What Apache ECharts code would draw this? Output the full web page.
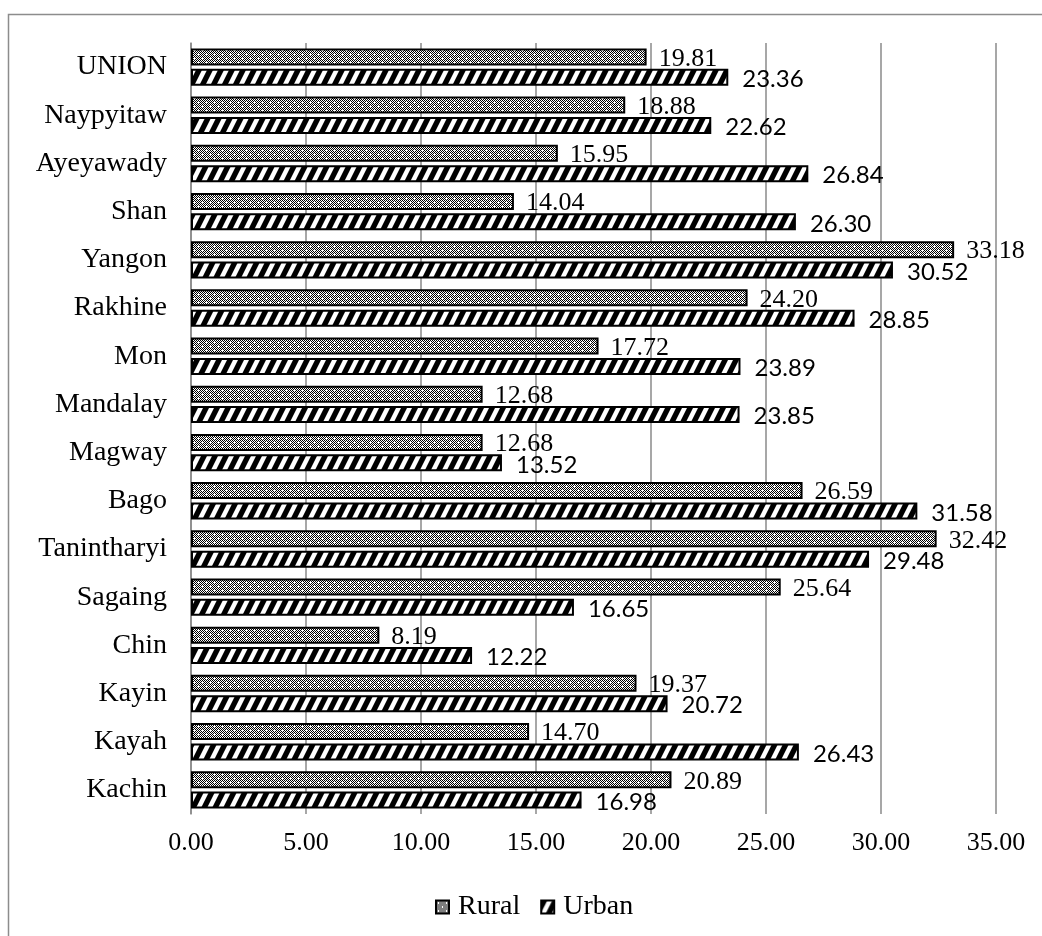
<!DOCTYPE html>
<html>
<head>
<meta charset="utf-8">
<script src="https://cdn.jsdelivr.net/npm/echarts@6/dist/echarts.min.js"></script>
<style>
  html, body { margin: 0; padding: 0; background: #fff; }
  #chart { width: 1042px; height: 936px; }
</style>
</head>
<body>
<div id="chart"></div>
<script>
// Regions, listed bottom to top as the category axis runs upward
const regions = ['Kachin', 'Kayah', 'Kayin', 'Chin', 'Sagaing', 'Tanintharyi', 'Bago', 'Magway',
  'Mandalay', 'Mon', 'Rakhine', 'Yangon', 'Shan', 'Ayeyawady', 'Naypyitaw', 'UNION'];
const rural = [20.89, 14.70, 19.37, 8.19, 25.64, 32.42, 26.59, 12.68,
  12.68, 17.72, 24.20, 33.18, 14.04, 15.95, 18.88, 19.81];
const urban = [16.98, 26.43, 20.72, 12.22, 16.65, 29.48, 31.58, 13.52,
  23.85, 23.89, 28.85, 30.52, 26.30, 26.84, 22.62, 23.36];
const xTicks = [0, 5, 10, 15, 20, 25, 30, 35];

// Fine dotted checker fill for the rural bars
function checkerPattern() {
  const c = document.createElement('canvas');
  c.width = 8; c.height = 8;
  const g = c.getContext('2d');
  g.fillStyle = '#fff';
  g.fillRect(0, 0, 8, 8);
  g.fillStyle = '#000';
  for (let y = 0; y < 8; y++) {
    for (let x = 0; x < 8; x++) {
      if ((x + y) % 2 === 0) g.fillRect(x, y, 1, 1);
    }
  }
  g.fillStyle = '#fff';
  [[2, 2], [6, 6]].forEach(([cx, cy]) => {
    g.fillRect(cx - 1, cy, 3, 1);
    g.fillRect(cx, cy - 1, 1, 3);
  });
  return c;
}

// Bold forward-slash stripes for the urban bars
function stripePattern() {
  const W = 11, H = 22;
  const c = document.createElement('canvas');
  c.width = W; c.height = H;
  const g = c.getContext('2d');
  g.fillStyle = '#fff';
  g.fillRect(0, 0, W, H);
  g.fillStyle = '#000';
  for (let y = 0; y < H; y++) {
    const x0 = W - (y + 0.5) * (W / H);
    [x0 - W, x0, x0 + W].forEach(x => g.fillRect(x, y, 6, 1));
  }
  return c;
}

const serif = '"Liberation Serif", "Times New Roman", serif';
const sans = 'Lato, "Liberation Sans", sans-serif';

const chart = echarts.init(document.getElementById('chart'), null, { renderer: 'canvas', devicePixelRatio: 1 });

chart.setOption({
  animation: false,
  backgroundColor: '#fff',
  graphic: [{
    type: 'rect',
    silent: true,
    z: -10,
    shape: { x: 8.5, y: 14.5, width: 1100, height: 1000 },
    style: { fill: 'none', stroke: '#8c8c8c', lineWidth: 1.5 }
  }],
  grid: { left: 191, top: 43, width: 805, height: 771, containLabel: false },
  legend: {
    data: ['Rural', 'Urban'],
    left: 430,
    top: 888,
    itemWidth: 13,
    itemHeight: 13,
    itemGap: 20,
    icon: 'rect',
    textStyle: { fontFamily: serif, fontSize: 28, color: '#000', padding: [0, 0, 0, 4] }
  },
  xAxis: {
    type: 'value',
    min: 0,
    max: 35,
    interval: 5,
    axisLine: { show: false },
    axisTick: { show: false },
    splitLine: { show: true, lineStyle: { color: '#8a8a8a', width: 1.5 } },
    axisLabel: {
      margin: 16,
      fontFamily: serif, fontSize: 26, color: '#000',
      formatter: v => xTicks.includes(v) ? v.toFixed(2) : ''
    }
  },
  yAxis: {
    type: 'category',
    data: regions,
    axisLine: { show: true, lineStyle: { color: '#8a8a8a', width: 1.5 } },
    axisTick: { show: false },
    axisLabel: { margin: 24, fontFamily: serif, fontSize: 28, color: '#000' }
  },
  series: [
    {
      name: 'Rural',
      type: 'bar',
      data: rural,
      barWidth: 17,
      barGap: '20%',
      itemStyle: {
        color: { image: checkerPattern(), repeat: 'repeat' },
        borderColor: '#000',
        borderWidth: 2
      },
      label: {
        show: true,
        position: 'right',
        distance: 12,
        offset: [0, 2],
        fontFamily: serif, fontSize: 26, color: '#000',
        formatter: p => p.value.toFixed(2)
      }
    },
    {
      name: 'Urban',
      type: 'bar',
      data: urban,
      barWidth: 17,
      barGap: '20%',
      itemStyle: {
        color: { image: stripePattern(), repeat: 'repeat' },
        borderColor: '#000',
        borderWidth: 2
      },
      label: {
        show: true,
        position: 'right',
        distance: 14,
        offset: [0, 2],
        fontFamily: sans, fontSize: 24, color: '#000',
        formatter: p => p.value.toFixed(2)
      }
    }
  ]
});
</script>
</body>
</html>
